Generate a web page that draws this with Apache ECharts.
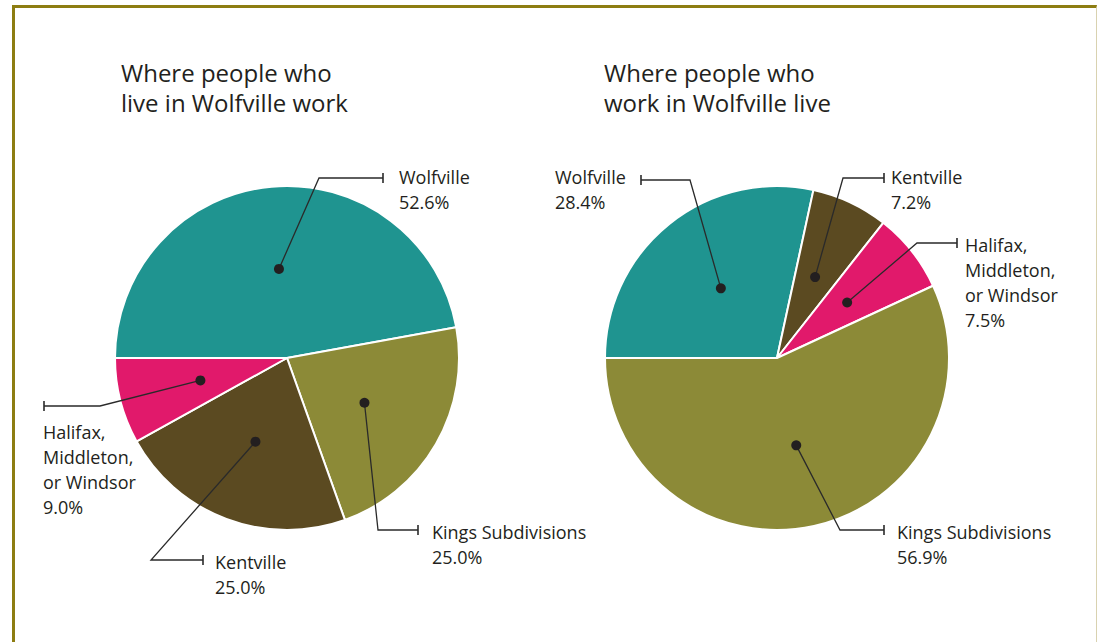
<!DOCTYPE html>
<html>
<head>
<meta charset="utf-8">
<script src="https://cdn.jsdelivr.net/npm/echarts@6/dist/echarts.min.js"></script>
<style>
  html, body { margin: 0; padding: 0; background: #ffffff; }
  #frame {
    position: absolute; left: 12px; top: 5px; width: 1085px; height: 640px;
    border-left: 3px solid #8d7d12; border-top: 3px solid #8d7d12;
    border-right: 1px solid #d9d2b0; box-sizing: border-box;
  }
  #chart { position: absolute; left: 0; top: 0; width: 1100px; height: 642px; }
</style>
</head>
<body>
<div id="frame"></div>
<div id="chart"></div>
<script>
// Commuting shares for Wolfville
const titles = ['Where people who\nlive in Wolfville work', 'Where people who\nwork in Wolfville live'];

const workPlaces = ['Wolfville', 'Kings Subdivisions', 'Kentville', 'Halifax,\nMiddleton,\nor Windsor'];
const workShares = [52.6, 25.0, 25.0, 9.0];

const homePlaces = ['Wolfville', 'Kentville', 'Halifax,\nMiddleton,\nor Windsor', 'Kings Subdivisions'];
const homeShares = [28.4, 7.2, 7.5, 56.9];

const placeColors = {
  'Wolfville': '#1f9490',
  'Kings Subdivisions': '#8c8a37',
  'Kentville': '#5b4a21',
  'Halifax,\nMiddleton,\nor Windsor': '#e1196b'
};

const FONT = '"Open Sans", "Noto Sans", sans-serif';
const INK = '#231f20';

// Callout placement per pie slice: elbow of the leader, end tick, label anchor
const callouts = [
  [
    { elbow: [319, 178], end: [383, 178], text: [399, 177] },
    { elbow: [378, 530], end: [418, 530], text: [432, 532] },
    { elbow: [151, 560], end: [203, 560], text: [215, 562] },
    { elbow: [100, 406], end: [44, 406], text: [43, 432] }
  ],
  [
    { elbow: [690, 180], end: [641, 180], text: [555, 177] },
    { elbow: [843, 178], end: [884, 178], text: [891, 177] },
    { elbow: [917, 243], end: [957, 243], text: [965, 245] },
    { elbow: [840, 530], end: [884, 530], text: [897, 532] }
  ]
];

const pieCenters = [[287, 358], [777, 358]];
const PIE_R = 172;

function pieSeries(names, values, center) {
  return {
    type: 'pie',
    center: center,
    radius: PIE_R,
    startAngle: 180,
    clockwise: true,
    silent: true,
    animation: false,
    label: { show: false },
    labelLine: { show: false },
    itemStyle: { borderColor: '#ffffff', borderWidth: 2 },
    data: names.map((n, i) => ({ name: n, value: values[i], itemStyle: { color: placeColors[n] } }))
  };
}

const chart = echarts.init(document.getElementById('chart'), null, { renderer: 'svg' });

chart.setOption({
  animation: false,
  title: titles.map((t, i) => ({
    text: t,
    left: i === 0 ? 116 : 599,
    top: 52,
    textStyle: { fontFamily: FONT, fontSize: 24, fontWeight: 'normal', color: INK, lineHeight: 30 }
  })),
  series: [
    pieSeries(workPlaces, workShares, pieCenters[0]),
    pieSeries(homePlaces, homeShares, pieCenters[1])
  ]
});

// Leader lines start from a dot inside each slice, taken from the pie layout
function buildCallouts() {
  const model = chart.getModel();
  const graphics = [];
  const LH = 25;
  [0, 1].forEach(si => {
    const data = model.getSeriesByIndex(si).getData();
    data.each(idx => {
      const lay = data.getItemLayout(idx);
      const mid = (lay.startAngle + lay.endAngle) / 2;
      const rr = lay.r * 0.52;
      const dot = [lay.cx + rr * Math.cos(mid), lay.cy + rr * Math.sin(mid)];
      const c = callouts[si][idx];
      const name = data.getName(idx);
      const value = data.get('value', idx);
      graphics.push({
        type: 'polyline', silent: true, z: 10,
        shape: { points: [dot, c.elbow, c.end] },
        style: { stroke: '#2a2a2a', lineWidth: 1.3, fill: null }
      });
      graphics.push({
        type: 'line', silent: true, z: 10,
        shape: { x1: c.end[0], y1: c.end[1] - 5, x2: c.end[0], y2: c.end[1] + 5 },
        style: { stroke: '#2a2a2a', lineWidth: 1.6 }
      });
      graphics.push({
        type: 'circle', silent: true, z: 11,
        shape: { cx: dot[0], cy: dot[1], r: 5 },
        style: { fill: '#231f20' }
      });
      graphics.push({
        type: 'text', silent: true, z: 11,
        x: c.text[0], y: c.text[1] - LH / 2,
        style: {
          text: name + '\n' + value.toFixed(1) + '%',
          font: '18px ' + FONT,
          fill: INK,
          lineHeight: LH,
          align: 'left',
          verticalAlign: 'top'
        }
      });
    });
  });
  chart.setOption({ graphic: graphics });
}

buildCallouts();
</script>
</body>
</html>
